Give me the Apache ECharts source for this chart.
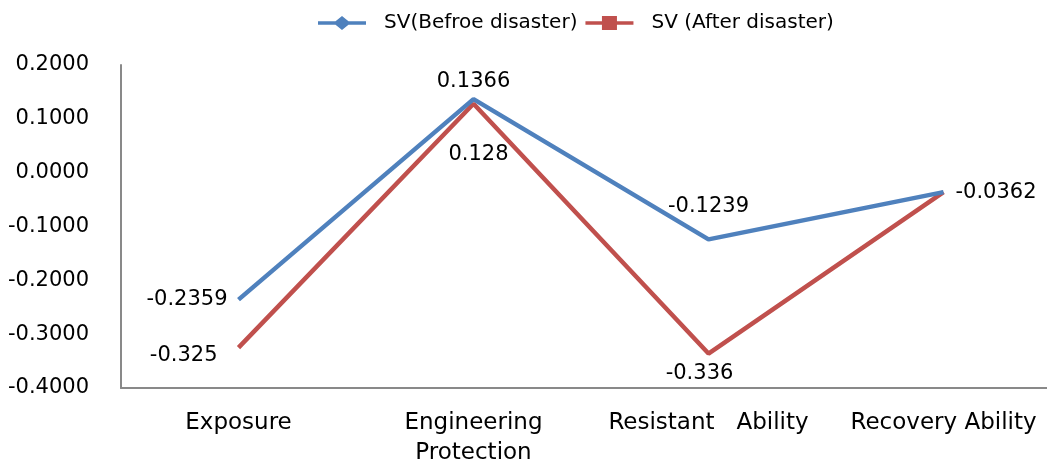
<!DOCTYPE html>
<html><head><meta charset="utf-8">
<script src="https://cdn.jsdelivr.net/npm/echarts@6/dist/echarts.min.js"></script>
<style>html,body{margin:0;padding:0;background:#fff}#c{width:1047px;height:462px}</style>
</head><body><div id="c"></div>
<script>
const categories = ['Exposure', 'Engineering\nProtection', 'Resistant   Ability', 'Recovery Ability'];
const before = [-0.2359, 0.1366, -0.1239, -0.0362];
const after = [-0.325, 0.128, -0.336, -0.0362];
const beforeLabels = ['-0.2359', '0.1366', '-0.1239', '-0.0362'];
const afterLabels = ['-0.325', '0.128', '-0.336', ''];

const labelFont = {fontFamily: 'DejaVu Sans', fontSize: 21, color: '#000'};
const beforePos = [
  {position: 'left', distance: 11},
  {position: 'top', distance: 7},
  {position: 'top', distance: 22},
  {position: 'right', distance: 12}
];
const afterPos = [
  {position: 'left', distance: 21, offset: [0, 8]},
  {position: 'bottom', distance: 40, offset: [5, 0]},
  {position: 'bottom', distance: 10, offset: [-9, 0]},
  {position: 'right'}
];

function build(vals, labels, pos) {
  return vals.map((v, i) => ({
    value: v,
    label: Object.assign({show: labels[i] !== '', formatter: labels[i]}, labelFont, pos[i])
  }));
}

const diamondIcon = 'path://M0,5.2H17.5L24,0L30.5,5.2H48V8.8H30.5L24,14L17.5,8.8H0Z';
const squareIcon = 'path://M0,5.2H16.5V0H31.5V5.2H48V8.8H31.5V14H16.5V8.8H0Z';

const chart = echarts.init(document.getElementById('c'));
chart.setOption({
  animation: false,
  legend: {
    top: 8, left: 313, itemGap: 8, itemWidth: 48, itemHeight: 15,
    textStyle: {fontFamily: 'DejaVu Sans', fontSize: 20, color: '#000', padding: [0, 0, 0, 13]},
    data: [{name: 'SV(Befroe disaster)', icon: diamondIcon}, {name: 'SV (After disaster)', icon: squareIcon}]
  },
  grid: {left: 121, width: 940, top: 65, height: 323, outerBoundsMode: 'none', containLabel: false},
  xAxis: {
    type: 'category', data: categories, boundaryGap: true,
    axisLine: {onZero: false, lineStyle: {color: '#898989', width: 2}},
    axisTick: {show: false},
    axisLabel: {fontFamily: 'DejaVu Sans', fontSize: 23, color: '#000', margin: 20, lineHeight: 30, interval: 0}
  },
  yAxis: {
    type: 'value', min: -0.4, max: 0.2, interval: 0.1,
    axisLine: {show: true, lineStyle: {color: '#898989', width: 2}},
    axisTick: {show: false},
    splitLine: {show: false},
    axisLabel: {fontFamily: 'DejaVu Sans', fontSize: 21, color: '#000', margin: 32,
      formatter: v => v.toFixed(4)}
  },
  series: [
    {name: 'SV(Befroe disaster)', type: 'line', data: build(before, beforeLabels, beforePos),
     symbol: 'circle', symbolSize: 0, showSymbol: true,
     lineStyle: {color: '#4F81BD', width: 4.5}, itemStyle: {color: '#4F81BD'}, z: 3},
    {name: 'SV (After disaster)', type: 'line', data: build(after, afterLabels, afterPos),
     symbol: 'circle', symbolSize: 0, showSymbol: true,
     lineStyle: {color: '#C0504D', width: 4.5}, itemStyle: {color: '#C0504D'}, z: 2}
  ]
});
</script></body></html>
